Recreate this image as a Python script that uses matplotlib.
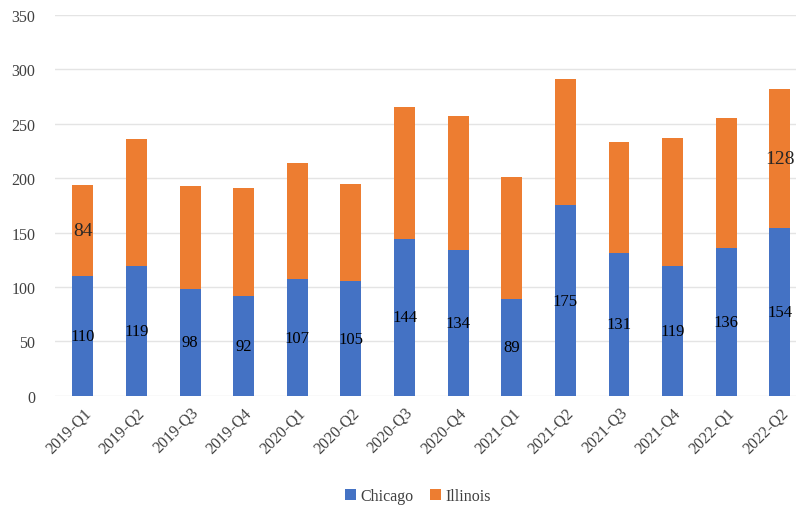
import matplotlib.pyplot as plt
import numpy as np

plt.rcParams['font.family'] = ['Liberation Serif', 'DejaVu Serif']

quarters = ["2019-Q1", "2019-Q2", "2019-Q3", "2019-Q4", "2020-Q1", "2020-Q2",
            "2020-Q3", "2020-Q4", "2021-Q1", "2021-Q2", "2021-Q3", "2021-Q4",
            "2022-Q1", "2022-Q2"]
chicago = [110, 119, 98, 92, 107, 105, 144, 134, 89, 175, 131, 119, 136, 154]
illinois = [84, 117, 95, 99, 107, 90, 121, 123, 112, 116, 102, 118, 119, 128]
# only these Illinois bars carry a value label
illinois_labeled = [0, 13]

blue = "#4472C4"
orange = "#ED7D31"

fig = plt.figure(figsize=(7.96, 5.10), dpi=100)
ax = fig.add_axes([0.069, 0.222, 0.931, 0.747])

x = np.arange(len(quarters))
w = 0.39
b1 = ax.bar(x, chicago, w, color=blue, label="Chicago", zorder=3)
b2 = ax.bar(x, illinois, w, bottom=chicago, color=orange, label="Illinois", zorder=3)

for i, v in enumerate(chicago):
    ax.text(x[i], v / 2, str(v), ha="center", va="center", fontsize=12,
            color="black", zorder=4)
for i in illinois_labeled:
    ax.text(x[i], chicago[i] + illinois[i] / 2, str(illinois[i]), ha="center",
            va="center", fontsize=14, color="#262626", zorder=4)

ax.set_ylim(0, 350)
ax.set_yticks(range(0, 351, 50))
ax.set_xlim(-0.52, 13.3)
ax.set_xticks(x)
ax.set_xticklabels(quarters, rotation=45, ha="right", rotation_mode="anchor",
                   fontsize=11.5, color="#404040")
ax.tick_params(axis="y", labelsize=11.5, labelcolor="#404040", length=0, pad=14)
ax.tick_params(axis="x", length=0, pad=6)
ax.grid(axis="y", color="#e4e4e4", linewidth=1, zorder=0)
for s in ax.spines.values():
    s.set_visible(False)

fig.legend(handles=[b1, b2], loc="center", bbox_to_anchor=(0.525, 0.025), ncol=2,
           frameon=False, fontsize=11.5, handlelength=0.7, handleheight=0.7,
           handletextpad=0.3, columnspacing=1.0, labelcolor="#404040")

fig.savefig("out.png", dpi=100)
